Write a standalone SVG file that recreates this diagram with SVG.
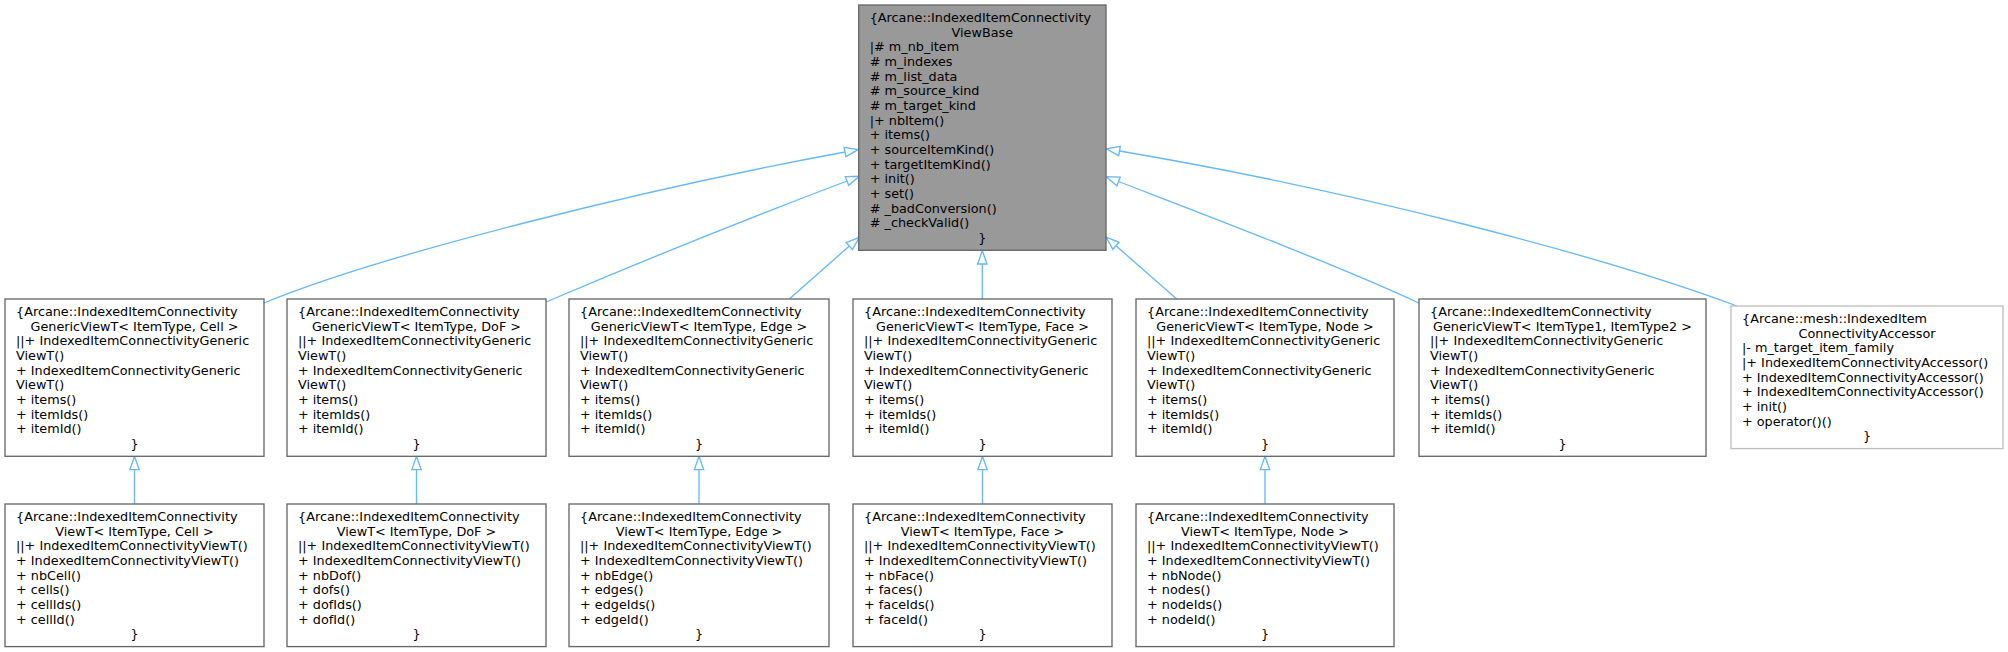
<svg xmlns="http://www.w3.org/2000/svg" width="2008" height="652" viewBox="0 0 2008 652">
<style>
text{font-family:"DejaVu Sans","Liberation Sans",sans-serif;font-size:12.8px;fill:#000}
.c{text-anchor:middle}
.box{fill:#fff;stroke:#666;stroke-width:1.33}
.base{fill:#999;stroke:#666;stroke-width:1.33}
.ext{fill:#fff;stroke:#bfbfbf;stroke-width:1.33}
.e{fill:none;stroke:#63b8ff;stroke-width:1.33;marker-end:url(#inh)}
</style>
<defs>
<marker id="inh" markerUnits="userSpaceOnUse" orient="auto" refX="0" refY="0" markerWidth="16" markerHeight="12" viewBox="-1 -6 16 12" overflow="visible">
<path d="M0,-4.67 L13.3,0 L0,4.67 Z" fill="#fff" stroke="#63b8ff" stroke-width="1.33"/>
</marker>
</defs>
<g id="connectors">
<path class="e" d="M264,303 C380,255 640,190 845,152"/>
<path class="e" d="M546,302 C640,262 760,214 847,181"/>
<path class="e" d="M789.3,299 L849.3,246.1"/>
<path class="e" d="M982.3,299 L982.3,264"/>
<path class="e" d="M1176.7,299 L1116,245.8"/>
<path class="e" d="M1419,303 C1330,262 1200,213 1118.5,181.5"/>
<path class="e" d="M1737,306 C1600,255 1350,190 1119.5,151"/>
<path class="e" d="M134.5,504 L134.5,469.6"/>
<path class="e" d="M416.5,504 L416.5,469.6"/>
<path class="e" d="M699,504 L699,469.6"/>
<path class="e" d="M982.5,504 L982.5,469.6"/>
<path class="e" d="M1265,504 L1265,469.6"/>
</g>
<g id="ViewBase">
<rect class="base" x="858.7" y="5" width="247.3" height="245.3"/>
<text x="869.7" y="22">{Arcane::IndexedItemConnectivity</text>
<text class="c" x="982.35" y="36.67">ViewBase</text>
<text x="869.7" y="51.33">|# m_nb_item</text>
<text x="869.7" y="66"># m_indexes</text>
<text x="869.7" y="80.67"># m_list_data</text>
<text x="869.7" y="95.33"># m_source_kind</text>
<text x="869.7" y="110"># m_target_kind</text>
<text x="869.7" y="124.67">|+ nbItem()</text>
<text x="869.7" y="139.33">+ items()</text>
<text x="869.7" y="154">+ sourceItemKind()</text>
<text x="869.7" y="168.67">+ targetItemKind()</text>
<text x="869.7" y="183.33">+ init()</text>
<text x="869.7" y="198">+ set()</text>
<text x="869.7" y="212.67"># _badConversion()</text>
<text x="869.7" y="227.33"># _checkValid()</text>
<text class="c" x="982.35" y="242">}</text>
</g>
<g id="GenericCell">
<rect class="box" x="5" y="299" width="259" height="157.3"/>
<text x="16" y="316">{Arcane::IndexedItemConnectivity</text>
<text class="c" x="134.5" y="330.67">GenericViewT&lt; ItemType, Cell &gt;</text>
<text x="16" y="345.33">||+ IndexedItemConnectivityGeneric</text>
<text x="16" y="360">ViewT()</text>
<text x="16" y="374.67">+ IndexedItemConnectivityGeneric</text>
<text x="16" y="389.33">ViewT()</text>
<text x="16" y="404">+ items()</text>
<text x="16" y="418.67">+ itemIds()</text>
<text x="16" y="433.33">+ itemId()</text>
<text class="c" x="134.5" y="448">}</text>
</g>
<g id="GenericDoF">
<rect class="box" x="287" y="299" width="259" height="157.3"/>
<text x="298" y="316">{Arcane::IndexedItemConnectivity</text>
<text class="c" x="416.5" y="330.67">GenericViewT&lt; ItemType, DoF &gt;</text>
<text x="298" y="345.33">||+ IndexedItemConnectivityGeneric</text>
<text x="298" y="360">ViewT()</text>
<text x="298" y="374.67">+ IndexedItemConnectivityGeneric</text>
<text x="298" y="389.33">ViewT()</text>
<text x="298" y="404">+ items()</text>
<text x="298" y="418.67">+ itemIds()</text>
<text x="298" y="433.33">+ itemId()</text>
<text class="c" x="416.5" y="448">}</text>
</g>
<g id="GenericEdge">
<rect class="box" x="569" y="299" width="260" height="157.3"/>
<text x="580" y="316">{Arcane::IndexedItemConnectivity</text>
<text class="c" x="699" y="330.67">GenericViewT&lt; ItemType, Edge &gt;</text>
<text x="580" y="345.33">||+ IndexedItemConnectivityGeneric</text>
<text x="580" y="360">ViewT()</text>
<text x="580" y="374.67">+ IndexedItemConnectivityGeneric</text>
<text x="580" y="389.33">ViewT()</text>
<text x="580" y="404">+ items()</text>
<text x="580" y="418.67">+ itemIds()</text>
<text x="580" y="433.33">+ itemId()</text>
<text class="c" x="699" y="448">}</text>
</g>
<g id="GenericFace">
<rect class="box" x="853" y="299" width="259" height="157.3"/>
<text x="864" y="316">{Arcane::IndexedItemConnectivity</text>
<text class="c" x="982.5" y="330.67">GenericViewT&lt; ItemType, Face &gt;</text>
<text x="864" y="345.33">||+ IndexedItemConnectivityGeneric</text>
<text x="864" y="360">ViewT()</text>
<text x="864" y="374.67">+ IndexedItemConnectivityGeneric</text>
<text x="864" y="389.33">ViewT()</text>
<text x="864" y="404">+ items()</text>
<text x="864" y="418.67">+ itemIds()</text>
<text x="864" y="433.33">+ itemId()</text>
<text class="c" x="982.5" y="448">}</text>
</g>
<g id="GenericNode">
<rect class="box" x="1136" y="299" width="258" height="157.3"/>
<text x="1147" y="316">{Arcane::IndexedItemConnectivity</text>
<text class="c" x="1265" y="330.67">GenericViewT&lt; ItemType, Node &gt;</text>
<text x="1147" y="345.33">||+ IndexedItemConnectivityGeneric</text>
<text x="1147" y="360">ViewT()</text>
<text x="1147" y="374.67">+ IndexedItemConnectivityGeneric</text>
<text x="1147" y="389.33">ViewT()</text>
<text x="1147" y="404">+ items()</text>
<text x="1147" y="418.67">+ itemIds()</text>
<text x="1147" y="433.33">+ itemId()</text>
<text class="c" x="1265" y="448">}</text>
</g>
<g id="GenericT1T2">
<rect class="box" x="1419" y="299" width="287" height="157.3"/>
<text x="1430" y="316">{Arcane::IndexedItemConnectivity</text>
<text class="c" x="1562.5" y="330.67">GenericViewT&lt; ItemType1, ItemType2 &gt;</text>
<text x="1430" y="345.33">||+ IndexedItemConnectivityGeneric</text>
<text x="1430" y="360">ViewT()</text>
<text x="1430" y="374.67">+ IndexedItemConnectivityGeneric</text>
<text x="1430" y="389.33">ViewT()</text>
<text x="1430" y="404">+ items()</text>
<text x="1430" y="418.67">+ itemIds()</text>
<text x="1430" y="433.33">+ itemId()</text>
<text class="c" x="1562.5" y="448">}</text>
</g>
<g id="Accessor">
<rect class="ext" x="1731" y="306" width="272" height="142.6"/>
<text x="1742" y="323">{Arcane::mesh::IndexedItem</text>
<text class="c" x="1867" y="337.67">ConnectivityAccessor</text>
<text x="1742" y="352.33">|- m_target_item_family</text>
<text x="1742" y="367">|+ IndexedItemConnectivityAccessor()</text>
<text x="1742" y="381.67">+ IndexedItemConnectivityAccessor()</text>
<text x="1742" y="396.33">+ IndexedItemConnectivityAccessor()</text>
<text x="1742" y="411">+ init()</text>
<text x="1742" y="425.67">+ operator()()</text>
<text class="c" x="1867" y="440.33">}</text>
</g>
<g id="ViewCell">
<rect class="box" x="5" y="504" width="259" height="142.6"/>
<text x="16" y="521">{Arcane::IndexedItemConnectivity</text>
<text class="c" x="134.5" y="535.67">ViewT&lt; ItemType, Cell &gt;</text>
<text x="16" y="550.33">||+ IndexedItemConnectivityViewT()</text>
<text x="16" y="565">+ IndexedItemConnectivityViewT()</text>
<text x="16" y="579.67">+ nbCell()</text>
<text x="16" y="594.33">+ cells()</text>
<text x="16" y="609">+ cellIds()</text>
<text x="16" y="623.67">+ cellId()</text>
<text class="c" x="134.5" y="638.33">}</text>
</g>
<g id="ViewDoF">
<rect class="box" x="287" y="504" width="259" height="142.6"/>
<text x="298" y="521">{Arcane::IndexedItemConnectivity</text>
<text class="c" x="416.5" y="535.67">ViewT&lt; ItemType, DoF &gt;</text>
<text x="298" y="550.33">||+ IndexedItemConnectivityViewT()</text>
<text x="298" y="565">+ IndexedItemConnectivityViewT()</text>
<text x="298" y="579.67">+ nbDof()</text>
<text x="298" y="594.33">+ dofs()</text>
<text x="298" y="609">+ dofIds()</text>
<text x="298" y="623.67">+ dofId()</text>
<text class="c" x="416.5" y="638.33">}</text>
</g>
<g id="ViewEdge">
<rect class="box" x="569" y="504" width="260" height="142.6"/>
<text x="580" y="521">{Arcane::IndexedItemConnectivity</text>
<text class="c" x="699" y="535.67">ViewT&lt; ItemType, Edge &gt;</text>
<text x="580" y="550.33">||+ IndexedItemConnectivityViewT()</text>
<text x="580" y="565">+ IndexedItemConnectivityViewT()</text>
<text x="580" y="579.67">+ nbEdge()</text>
<text x="580" y="594.33">+ edges()</text>
<text x="580" y="609">+ edgeIds()</text>
<text x="580" y="623.67">+ edgeId()</text>
<text class="c" x="699" y="638.33">}</text>
</g>
<g id="ViewFace">
<rect class="box" x="853" y="504" width="259" height="142.6"/>
<text x="864" y="521">{Arcane::IndexedItemConnectivity</text>
<text class="c" x="982.5" y="535.67">ViewT&lt; ItemType, Face &gt;</text>
<text x="864" y="550.33">||+ IndexedItemConnectivityViewT()</text>
<text x="864" y="565">+ IndexedItemConnectivityViewT()</text>
<text x="864" y="579.67">+ nbFace()</text>
<text x="864" y="594.33">+ faces()</text>
<text x="864" y="609">+ faceIds()</text>
<text x="864" y="623.67">+ faceId()</text>
<text class="c" x="982.5" y="638.33">}</text>
</g>
<g id="ViewNode">
<rect class="box" x="1136" y="504" width="258" height="142.6"/>
<text x="1147" y="521">{Arcane::IndexedItemConnectivity</text>
<text class="c" x="1265" y="535.67">ViewT&lt; ItemType, Node &gt;</text>
<text x="1147" y="550.33">||+ IndexedItemConnectivityViewT()</text>
<text x="1147" y="565">+ IndexedItemConnectivityViewT()</text>
<text x="1147" y="579.67">+ nbNode()</text>
<text x="1147" y="594.33">+ nodes()</text>
<text x="1147" y="609">+ nodeIds()</text>
<text x="1147" y="623.67">+ nodeId()</text>
<text class="c" x="1265" y="638.33">}</text>
</g>
</svg>
